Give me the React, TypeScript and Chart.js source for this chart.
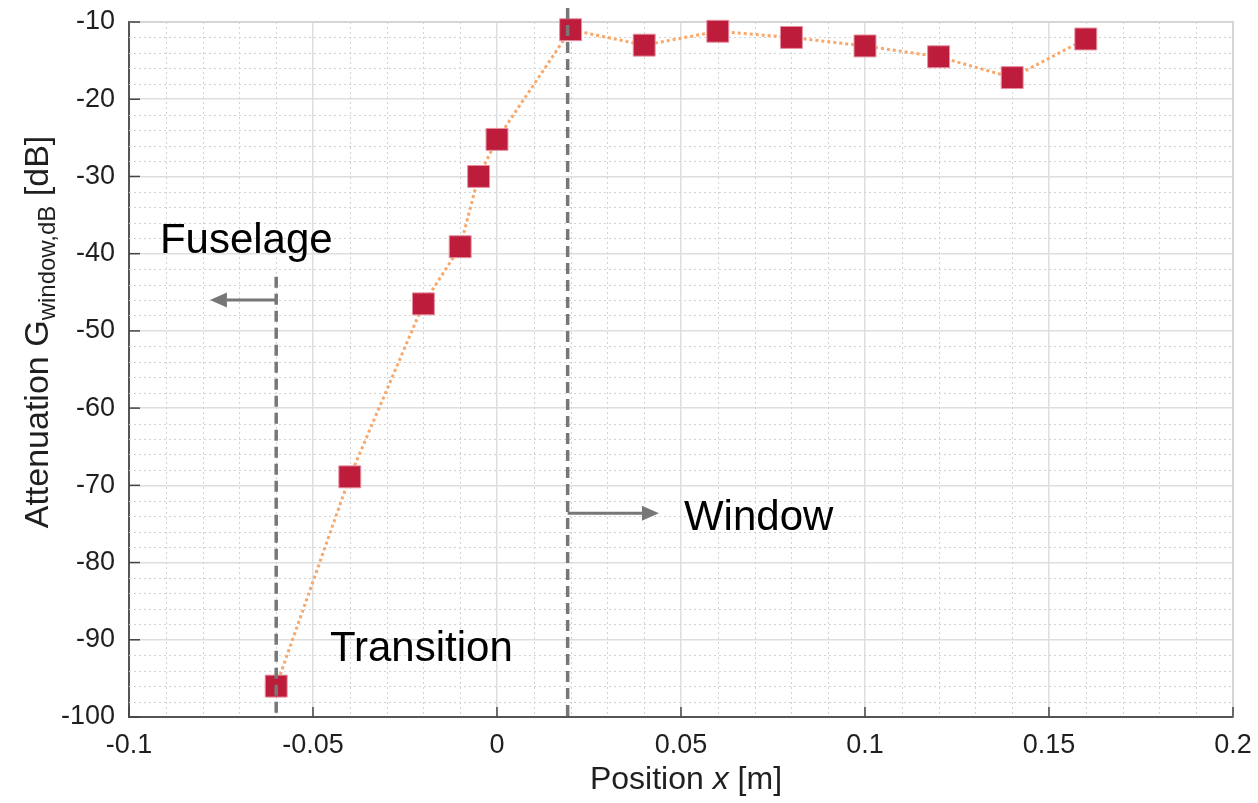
import React, { useEffect, useRef } from "react";
import { Chart, registerables } from "chart.js";

Chart.register(...registerables);

// Measured data
const positions = [-0.06, -0.04, -0.02, -0.01, -0.005, 0, 0.02, 0.04, 0.06, 0.08, 0.1, 0.12, 0.14, 0.16];
const attenuation = [-96.0, -68.9, -46.5, -39.1, -30.0, -25.2, -11.0, -13.0, -11.2, -12.0, -13.1, -14.5, -17.2, -12.2];

// Axis ranges / ticks
const xMin = -0.1;
const xMax = 0.2;
const xStep = 0.05;
const xMinorStep = 0.01;
const yMin = -100;
const yMax = -10;
const yStep = 10;
const yMinorStep = 2;

// Annotations
const boundaryX = [-0.06, 0.0192];
const boundaryTop = [-43, -8.2];
const arrowFromX = [-0.06, 0.0192];
const arrowToX = [-0.078, 0.044];
const arrowY = [-46, -73.6];
const regionLabels = ["Fuselage", "Transition", "Window"];
const regionLabelX = [-0.0916, -0.0454, 0.0508];
const regionLabelY = [-39.9, -92.8, -75.8];

const FONT = "'Liberation Sans', Arial, Helvetica, sans-serif";
const TEXT = "#1f1f1f";

const decorPlugin = {
  id: "decor",
  beforeDatasetsDraw(chart: any) {
    const { ctx, chartArea: a, scales } = chart;
    const xs = scales.x;
    const ys = scales.y;
    ctx.save();
    ctx.strokeStyle = "#d2d2d2";
    ctx.lineWidth = 1;
    ctx.setLineDash([2, 3]);
    const nx = Math.round((xMax - xMin) / xMinorStep);
    for (let i = 1; i < nx; i++) {
      if (i % 5 === 0) continue;
      const px = Math.round(xs.getPixelForValue(xMin + i * xMinorStep)) + 0.5;
      ctx.beginPath();
      ctx.moveTo(px, a.top);
      ctx.lineTo(px, a.bottom);
      ctx.stroke();
    }
    const ny = Math.round((yMax - yMin) / yMinorStep);
    for (let i = 1; i < ny; i++) {
      if (i % 5 === 0) continue;
      const py = Math.round(ys.getPixelForValue(yMin + i * yMinorStep)) + 0.5;
      ctx.beginPath();
      ctx.moveTo(a.left, py);
      ctx.lineTo(a.right, py);
      ctx.stroke();
    }
    ctx.setLineDash([]);
    // top/right frame
    ctx.strokeStyle = "#d6d6d6";
    ctx.lineWidth = 2;
    ctx.beginPath();
    ctx.moveTo(a.left, a.top);
    ctx.lineTo(a.right, a.top);
    ctx.lineTo(a.right, a.bottom);
    ctx.stroke();
    // inward ticks
    ctx.strokeStyle = "#444";
    ctx.lineWidth = 1.5;
    for (let v = yMin; v <= yMax + 1e-9; v += yStep) {
      const py = ys.getPixelForValue(v);
      ctx.beginPath();
      ctx.moveTo(a.left, py);
      ctx.lineTo(a.left + 11, py);
      ctx.stroke();
    }
    const nmx = Math.round((xMax - xMin) / xStep);
    for (let i = 0; i <= nmx; i++) {
      const px = xs.getPixelForValue(xMin + i * xStep);
      ctx.beginPath();
      ctx.moveTo(px, a.bottom);
      ctx.lineTo(px, a.bottom - 10);
      ctx.stroke();
    }
    ctx.restore();
  },
  afterDatasetsDraw(chart: any) {
    const { ctx, chartArea: a, scales } = chart;
    const xs = scales.x;
    const ys = scales.y;
    ctx.save();
    // dashed boundaries
    ctx.strokeStyle = "#777777";
    ctx.lineWidth = 3.5;
    ctx.setLineDash([11, 6]);
    boundaryX.forEach((bx, i) => {
      const px = xs.getPixelForValue(bx);
      ctx.beginPath();
      ctx.moveTo(px, ys.getPixelForValue(boundaryTop[i]));
      ctx.lineTo(px, a.bottom);
      ctx.stroke();
    });
    ctx.setLineDash([]);
    // arrows
    ctx.strokeStyle = "#777777";
    ctx.fillStyle = "#777777";
    ctx.lineWidth = 3;
    arrowFromX.forEach((fx, i) => {
      const x0 = xs.getPixelForValue(fx);
      const x1 = xs.getPixelForValue(arrowToX[i]);
      const py = ys.getPixelForValue(arrowY[i]);
      const dir = Math.sign(x1 - x0);
      const head = 17;
      ctx.beginPath();
      ctx.moveTo(x0, py);
      ctx.lineTo(x1 - dir * head, py);
      ctx.stroke();
      ctx.beginPath();
      ctx.moveTo(x1, py);
      ctx.lineTo(x1 - dir * head, py - 7.5);
      ctx.lineTo(x1 - dir * head, py + 7.5);
      ctx.closePath();
      ctx.fill();
    });
    // region labels
    ctx.fillStyle = "#000";
    ctx.font = `42px ${FONT}`;
    ctx.textAlign = "left";
    ctx.textBaseline = "alphabetic";
    regionLabels.forEach((t, i) => {
      ctx.fillText(t, xs.getPixelForValue(regionLabelX[i]), ys.getPixelForValue(regionLabelY[i]));
    });
    ctx.restore();
  },
  afterDraw(chart: any) {
    const { ctx } = chart;
    ctx.save();
    ctx.fillStyle = TEXT;
    ctx.textBaseline = "alphabetic";
    ctx.textAlign = "left";
    // X title
    const parts: [string, string][] = [
      ["Position ", `32px ${FONT}`],
      ["x", `italic 32px ${FONT}`],
      [" [m]", `32px ${FONT}`],
    ];
    let w = 0;
    parts.forEach(([t, f]) => {
      ctx.font = f;
      w += ctx.measureText(t).width;
    });
    let x = 686 - w / 2;
    parts.forEach(([t, f]) => {
      ctx.font = f;
      ctx.fillText(t, x, 789);
      x += ctx.measureText(t).width;
    });
    // Y title
    const yparts: [string, string, number][] = [
      ["Attenuation ", `34px ${FONT}`, 0],
      ["G", `34px ${FONT}`, 0],
      ["window,dB", `24px ${FONT}`, 7],
      [" [dB]", `34px ${FONT}`, 0],
    ];
    let yw = 0;
    yparts.forEach(([t, f]) => {
      ctx.font = f;
      yw += ctx.measureText(t).width;
    });
    ctx.translate(48, 332);
    ctx.rotate(-Math.PI / 2);
    let yx = -yw / 2;
    yparts.forEach(([t, f, dy]) => {
      ctx.font = f;
      ctx.fillText(t, yx, dy);
      yx += ctx.measureText(t).width;
    });
    ctx.restore();
  },
};

export default function App() {
  const ref = useRef<HTMLCanvasElement | null>(null);
  useEffect(() => {
    document.body.style.margin = "0";
    document.body.style.overflow = "hidden";
    const canvas = ref.current;
    if (!canvas) return;
    const chart = new Chart(canvas, {
      type: "scatter",
      data: {
        datasets: [
          {
            data: positions.map((p, i) => ({ x: p, y: attenuation[i] })),
            showLine: true,
            borderColor: "#F7A86A",
            borderWidth: 3,
            borderDash: [3, 3],
            pointStyle: "rect",
            pointRadius: 15.5,
            pointBackgroundColor: "#BE1C3B",
            pointBorderColor: "#E590A0",
            pointBorderWidth: 1,
            clip: false,
          } as any,
        ],
      },
      options: {
        responsive: false,
        animation: false,
        layout: { padding: { left: 0, top: 22, right: 25, bottom: 0 } },
        plugins: { legend: { display: false }, tooltip: { enabled: false } },
        scales: {
          x: {
            type: "linear",
            min: xMin,
            max: xMax,
            afterFit: (s: any) => {
              s.height = 86;
              s.paddingLeft = 0;
              s.paddingRight = 0;
            },
            afterBuildTicks: (s: any) => {
              const n = Math.round((xMax - xMin) / xStep);
              s.ticks = Array.from({ length: n + 1 }, (_, i) => ({ value: xMin + i * xStep }));
            },
            ticks: {
              color: TEXT,
              font: { family: FONT, size: 27 },
              padding: 12,
              maxRotation: 0,
              callback: (v: any) => String(Number(Number(v).toFixed(3))),
            },
            grid: { color: "#dedede", lineWidth: 1.5, drawTicks: false },
            border: { display: true, color: "#555", width: 2 },
          },
          y: {
            type: "linear",
            min: yMin,
            max: yMax,
            afterFit: (s: any) => {
              s.width = 129;
              s.paddingTop = 0;
              s.paddingBottom = 0;
            },
            ticks: {
              stepSize: yStep,
              color: TEXT,
              font: { family: FONT, size: 27 },
              padding: 14,
              callback: (v: any) => String(v),
            },
            grid: { color: "#dedede", lineWidth: 1.5, drawTicks: false },
            border: { display: true, color: "#555", width: 2 },
          },
        },
      },
      plugins: [decorPlugin],
    });
    return () => chart.destroy();
  }, []);
  return <canvas ref={ref} width={1258} height={803} style={{ display: "block" }} />;
}
